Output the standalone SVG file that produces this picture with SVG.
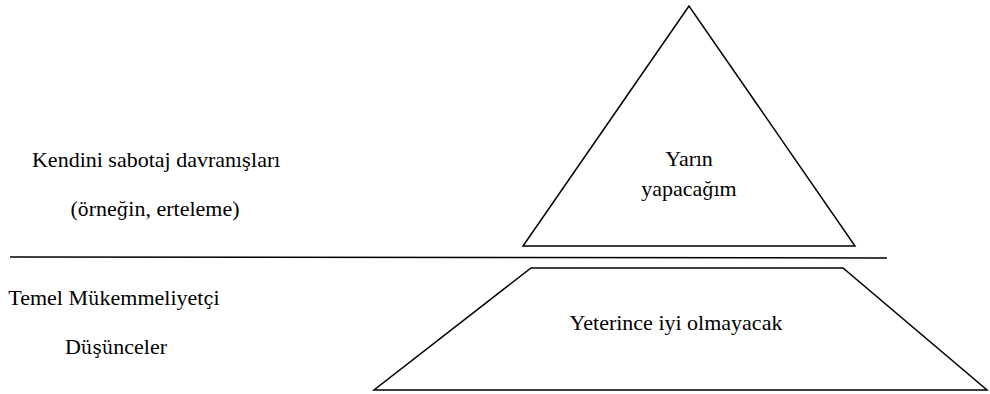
<svg xmlns="http://www.w3.org/2000/svg" width="990" height="394" viewBox="0 0 990 394">
<style>
.s{fill:none;stroke:#000;stroke-width:1.5;stroke-linejoin:miter}
</style>
<rect width="990" height="394" fill="#fff"/>
<g id="label-top">
<text x="156" y="167" font-family="Liberation Serif" font-size="22" text-anchor="middle">Kendini sabotaj davran<tspan font-family="DejaVu Serif" font-size="18">ış</tspan>lar<tspan font-family="DejaVu Serif" font-size="18">ı</tspan></text>
<text x="155" y="216" font-family="Liberation Serif" font-size="22" text-anchor="middle">(<tspan font-family="DejaVu Serif" font-size="18">ö</tspan>rne<tspan font-family="DejaVu Serif" font-size="18">ğ</tspan>in, erteleme)</text>
</g>
<g id="label-bottom">
<text x="114" y="305" font-family="Liberation Serif" font-size="22" text-anchor="middle">Temel M<tspan font-family="DejaVu Serif" font-size="18">ü</tspan>kemmeliyet<tspan font-family="DejaVu Serif" font-size="18">ç</tspan>i</text>
<text x="116" y="354" font-family="Liberation Serif" font-size="22" text-anchor="middle">D<tspan font-family="DejaVu Serif" font-size="18">üşü</tspan>nceler</text>
</g>
<g id="triangle">
<polygon class="s" points="689,6 523,246 855,246"/>
<text x="689" y="166" font-family="Liberation Serif" font-size="22" text-anchor="middle">Yar<tspan font-family="DejaVu Serif" font-size="18">ı</tspan>n</text>
<text x="689" y="196" font-family="Liberation Serif" font-size="22" text-anchor="middle">yapaca<tspan font-family="DejaVu Serif" font-size="18">ğı</tspan>m</text>
</g>
<g id="trapezoid">
<polygon class="s" points="531,268 843,268 987,390 374,390"/>
<text x="676" y="330" font-family="Liberation Serif" font-size="22" text-anchor="middle">Yeterince iyi olmayacak</text>
</g>
<g id="connectors">
<line class="s" x1="10" y1="257" x2="887" y2="258"/>
</g>
</svg>
